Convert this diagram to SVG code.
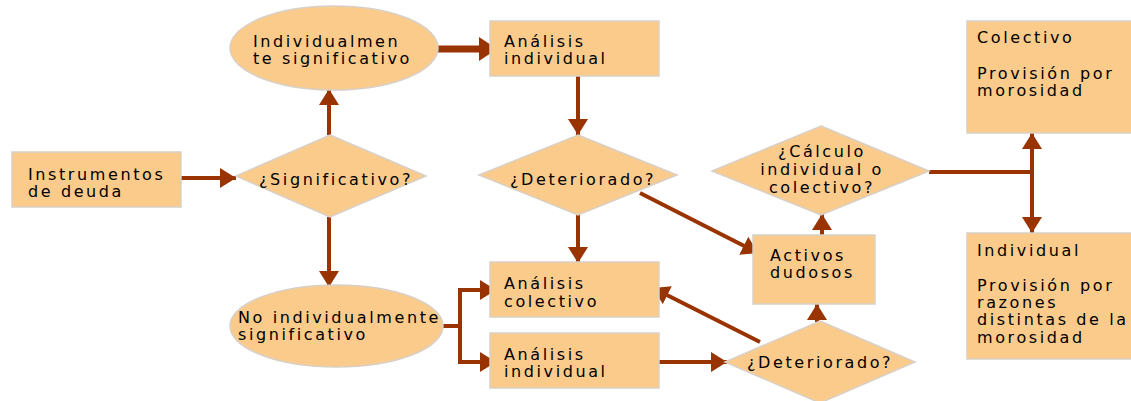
<svg xmlns="http://www.w3.org/2000/svg" width="1131" height="401" viewBox="0 0 1131 401">
<style>
.n{fill:#FBCB8C;stroke:#D8D0C6;stroke-width:1.5}
.t{font-family:"DejaVu Sans","Verdana",sans-serif;font-size:16px;letter-spacing:2.6px;fill:#000}
.c{fill:none;stroke:#993300;stroke-width:4}
.k{fill:none;stroke:#993300;stroke-width:7}
</style>
<defs>
<marker id="ah" markerUnits="userSpaceOnUse" viewBox="0 0 16 20" refX="16" refY="10" markerWidth="16" markerHeight="20" orient="auto"><path d="M0,0L16,10L0,20z" fill="#993300"/></marker>
<marker id="ahk" markerUnits="userSpaceOnUse" viewBox="0 0 18 24" refX="18" refY="12" markerWidth="18" markerHeight="24" orient="auto"><path d="M0,0L18,12L0,24z" fill="#993300"/></marker>
</defs>
<rect width="1131" height="401" fill="#fff"/>
<g id="connectors">
<path class="c" d="M181,178L236,178" marker-end="url(#ah)"/>
<path class="c" d="M329,135L329,89" marker-end="url(#ah)"/>
<path class="c" d="M329,217L329,287" marker-end="url(#ah)"/>
<path class="k" d="M438,49L497,49" marker-end="url(#ahk)"/>
<path class="c" d="M578,76L578,135" marker-end="url(#ah)"/>
<path class="c" d="M578,215L578,263" marker-end="url(#ah)"/>
<path class="c" d="M640,193L758,253" marker-end="url(#ah)"/>
<path class="c" d="M443,326L460,326M460,288L460,364"/>
<path class="c" d="M458,290L496,290" marker-end="url(#ah)"/>
<path class="c" d="M458,362L496,362" marker-end="url(#ah)"/>
<path class="c" d="M659,362L727,362" marker-end="url(#ah)"/>
<path class="c" d="M760,342L653,288" marker-end="url(#ah)"/>
<path class="c" d="M817,322L817,304" marker-end="url(#ah)"/>
<path class="c" d="M822,236L822,214" marker-end="url(#ah)"/>
<path class="c" d="M929,172L1032,172"/>
<path class="c" d="M1032,174L1032,133" marker-end="url(#ah)"/>
<path class="c" d="M1032,170L1032,233" marker-end="url(#ah)"/>
</g>
<g id="instrumentos"><rect class="n" x="12" y="152" width="169" height="55"/><text class="t" x="28" y="180">Instrumentos</text><text class="t" x="28" y="197">de deuda</text></g>
<g id="significativo"><polygon class="n" points="330,135 426,176 330,217 236,176"/><text class="t" x="259" y="185">¿Significativo?</text></g>
<g id="individualmente"><ellipse class="n" cx="334" cy="48" rx="104" ry="42"/><text class="t" x="253" y="47">Individualmen</text><text class="t" x="253" y="64">te significativo</text></g>
<g id="no-individualmente"><ellipse class="n" cx="336.5" cy="326" rx="106.5" ry="41"/><text class="t" x="238" y="323">No individualmente</text><text class="t" x="238" y="340">significativo</text></g>
<g id="analisis-individual-1"><rect class="n" x="490" y="21" width="169" height="55"/><text class="t" x="504" y="47">Análisis</text><text class="t" x="504" y="64">individual</text></g>
<g id="deteriorado-1"><polygon class="n" points="578,135 677,175 578,215 479,175"/><text class="t" x="510" y="185">¿Deteriorado?</text></g>
<g id="analisis-colectivo"><rect class="n" x="490" y="262" width="169" height="55"/><text class="t" x="504" y="289">Análisis</text><text class="t" x="504" y="307">colectivo</text></g>
<g id="analisis-individual-2"><rect class="n" x="490" y="333" width="169" height="55"/><text class="t" x="504" y="360">Análisis</text><text class="t" x="504" y="377">individual</text></g>
<g id="activos-dudosos"><rect class="n" x="753" y="235" width="122" height="69"/><text class="t" x="770" y="261">Activos</text><text class="t" x="770" y="278">dudosos</text></g>
<g id="deteriorado-2"><polygon class="n" points="820,321 915,362 820,403 725,362"/><text class="t" x="747" y="368">¿Deteriorado?</text></g>
<g id="calculo"><polygon class="n" points="821,126 929,171 821,215 712,171"/><text class="t" x="822" y="157" text-anchor="middle">¿Cálculo</text><text class="t" x="822" y="175" text-anchor="middle">individual o</text><text class="t" x="822" y="193" text-anchor="middle">colectivo?</text></g>
<g id="colectivo"><rect class="n" x="967" y="21" width="170" height="112"/><text class="t" x="977" y="43">Colectivo</text><text class="t" x="977" y="79">Provisión por</text><text class="t" x="977" y="96">morosidad</text></g>
<g id="individual"><rect class="n" x="967" y="233" width="170" height="126"/><text class="t" x="977" y="256">Individual</text><text class="t" x="977" y="291">Provisión por</text><text class="t" x="977" y="308">razones</text><text class="t" x="977" y="325">distintas de la</text><text class="t" x="977" y="343">morosidad</text></g>
</svg>
